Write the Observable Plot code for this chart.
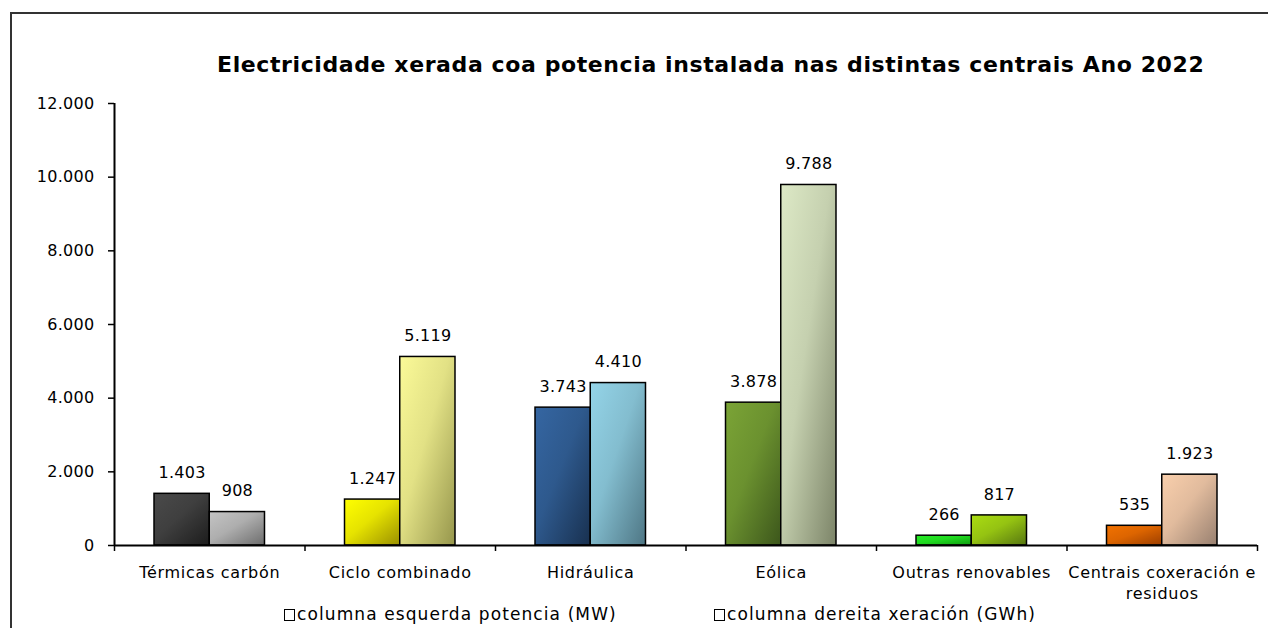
<!DOCTYPE html>
<html>
<head>
<meta charset="utf-8">
<script src="https://cdn.jsdelivr.net/npm/d3@7"></script>
<script src="https://cdn.jsdelivr.net/npm/@observablehq/plot@0.6"></script>
<style>
  html, body { margin: 0; padding: 0; background: #fff; }
  #wrap { position: relative; width: 1268px; height: 628px; overflow: hidden; font-family: "DejaVu Sans", sans-serif; color: #000; }
  #frame { position: absolute; left: 10px; top: 12px; width: 1400px; height: 800px; border-left: 2px solid #333; border-top: 2px solid #333; box-sizing: border-box; }
  #chart { position: absolute; left: 0; top: 0; }
  #title { position: absolute; top: 52px; left: 0; width: 1268px; text-align: left; font-weight: bold; font-size: 22px; white-space: nowrap; }
  #title span { position: absolute; left: 217px; letter-spacing: 0.6px; }
  .leg { position: absolute; top: 604px; font-size: 17px; letter-spacing: 1.1px; white-space: nowrap; line-height: 20px; }
  .leg i { display: inline-block; width: 9px; height: 10px; border: 1.5px solid #000; margin-right: 2px; vertical-align: -1px; }
</style>
</head>
<body>
<div id="wrap">
  <div id="frame"></div>
  <div id="chart"></div>
  <div id="title"><span id="titletext">Electricidade xerada coa potencia instalada nas distintas centrais Ano 2022</span></div>
  <div class="leg" id="leg0" style="left:284px"></div>
  <div class="leg" id="leg1" style="left:714px"></div>
</div>
<script>
const categories = ["Térmicas carbón", "Ciclo combinado", "Hidráulica", "Eólica", "Outras renovables", "Centrais coxeración e residuos"];
const categoryLabels = ["Térmicas carbón", "Ciclo combinado", "Hidráulica", "Eólica", "Outras renovables", "Centrais coxeración e\nresiduos"];
const potencia = [1403, 1247, 3743, 3878, 266, 535];
const xeracion = [908, 5119, 4410, 9788, 817, 1923];
const yTicks = [0, 2000, 4000, 6000, 8000, 10000, 12000];
const seriesNames = ["columna esquerda potencia (MW)", "columna dereita xeración (GWh)"];
const leftColors = [["#4a4a4a", "#1c1c1c"], ["#ffff00", "#9a9000"], ["#3566a2", "#18304f"], ["#7ba436", "#3c561b"], ["#26ee26", "#0e9a0e"], ["#f27200", "#9c3e00"]];
const rightColors = [["#c4c4c4", "#6c6c6c"], ["#fbfa98", "#96964c"], ["#94d4e8", "#4e7684"], ["#dde9c6", "#7c8468"], ["#aadd12", "#567610"], ["#f9cfac", "#988070"]];

const locale = d3.formatLocale({decimal: ",", thousands: ".", grouping: [3], currency: ["", "€"]});
const fmt = locale.format(",.0f");

const barW = 0.29;
const rows = [];
categories.forEach((c, i) => {
  rows.push({i, cat: c, s: 0, value: potencia[i], grad: `g${i}_0`});
  rows.push({i, cat: c, s: 1, value: xeracion[i], grad: `g${i}_1`});
});
const x1 = d => d.s === 0 ? d.i + 0.5 - barW : d.i + 0.5;
const x2 = d => d.s === 0 ? d.i + 0.5 : d.i + 0.5 + barW;

const svg = Plot.plot({
  width: 1268,
  height: 628,
  marginLeft: 114,
  marginRight: 11,
  marginTop: 103,
  marginBottom: 83,
  style: {fontFamily: "DejaVu Sans, sans-serif", fontSize: "16px", color: "#000", background: "transparent", overflow: "visible"},
  x: {domain: [0, categories.length], axis: null},
  y: {domain: [0, 12000], axis: null},
  color: {type: "identity"},
  marks: [
    Plot.rectY(rows, {x1, x2, y1: 0, y2: "value", fill: d => `url(#${d.grad})`, stroke: "#000", strokeWidth: 1.5}),
    Plot.text(rows, {x: d => (x1(d) + x2(d)) / 2, y: "value", text: d => fmt(d.value), dy: -21, fontSize: 16, fill: "#000", className: "vlab"}),
    Plot.axisY({ticks: yTicks, tickFormat: fmt, tickSize: 6, tickPadding: 14, fontSize: 16, label: null, strokeWidth: 1.5}),
    Plot.axisX({ticks: d3.range(categories.length + 1), tickSize: 6, tickFormat: () => "", label: null, strokeWidth: 1.5}),
    Plot.ruleX([0], {y1: 0, y2: 12000, strokeWidth: 2, stroke: "#000"}),
    Plot.ruleY([0], {strokeWidth: 2, stroke: "#000"}),
    Plot.text(categoryLabels, {x: (d, i) => i + 0.5, y: 0, text: d => d, lineAnchor: "top", dy: 18, fontSize: 16, lineHeight: 1.3, fill: "#000", className: "clab"})
  ]
});

const defs = d3.select(svg).insert("defs", ":first-child");
[leftColors, rightColors].forEach((cols, s) => {
  cols.forEach((c, i) => {
    const g = defs.append("linearGradient").attr("id", `g${i}_${s}`)
      .attr("x1", 0).attr("y1", 0).attr("x2", 1).attr("y2", 1);
    g.append("stop").attr("offset", "0%").attr("stop-color", c[0]);
    g.append("stop").attr("offset", "45%").attr("stop-color", d3.interpolateRgb(c[0], c[1])(0.25));
    g.append("stop").attr("offset", "100%").attr("stop-color", c[1]);
  });
});
d3.select(svg).selectAll("text").style("letter-spacing", "0.3px");
d3.select(svg).selectAll(".clab text").style("letter-spacing", "0.7px");
document.getElementById("chart").appendChild(svg);

seriesNames.forEach((n, k) => {
  const el = document.getElementById("leg" + k);
  el.innerHTML = "<i></i>";
  el.appendChild(document.createTextNode(n));
});

// fit title to the reference width
const t = document.getElementById("titletext");
const w = t.getBoundingClientRect().width;
t.style.fontSize = (22 * 988 / w).toFixed(2) + "px";
</script>
</body>
</html>
